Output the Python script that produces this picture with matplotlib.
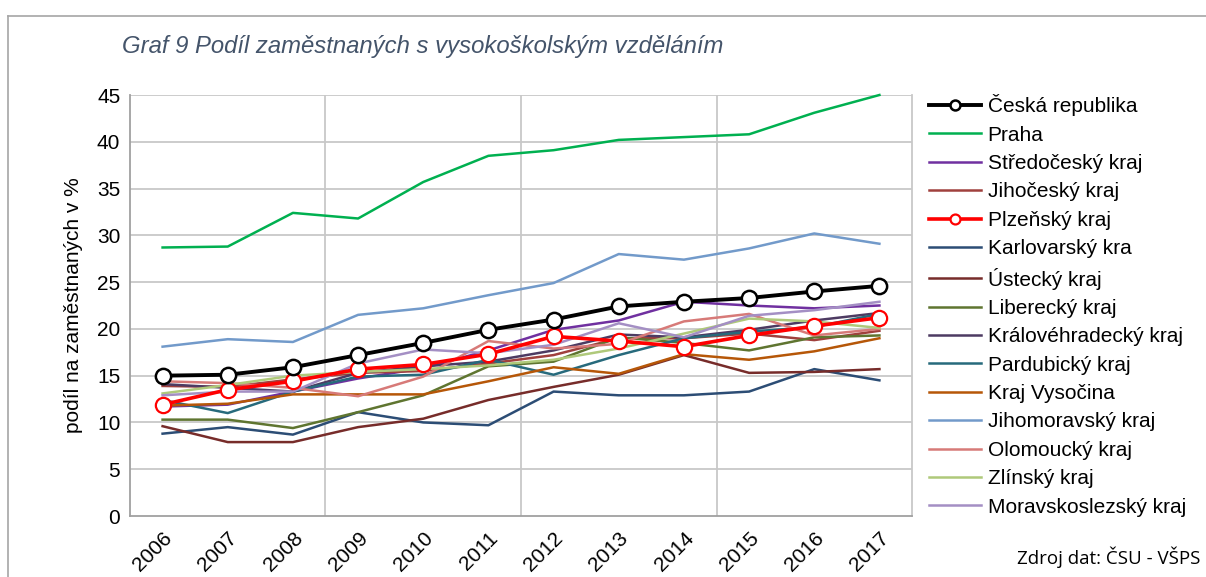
import matplotlib
matplotlib.use("Agg")
import matplotlib.pyplot as plt
from matplotlib.lines import Line2D

years = ["2006", "2007", "2008", "2009", "2010", "2011", "2012", "2013", "2014", "2015", "2016", "2017"]

ceska_republika = [15.0, 15.1, 15.9, 17.2, 18.5, 19.9, 21.0, 22.4, 22.9, 23.3, 24.0, 24.6]
praha = [28.7, 28.8, 32.4, 31.8, 35.7, 38.5, 39.1, 40.2, 40.5, 40.8, 43.1, 45.0]
stredocesky = [11.7, 11.9, 13.3, 14.7, 15.8, 17.7, 19.9, 20.9, 22.9, 22.5, 22.2, 22.5]
jihocesky = [13.9, 13.8, 14.6, 15.3, 15.5, 16.3, 17.2, 19.0, 19.0, 19.5, 18.8, 19.8]
plzensky = [11.9, 13.5, 14.4, 15.7, 16.2, 17.3, 19.2, 18.7, 18.1, 19.3, 20.3, 21.2]
karlovarsky = [8.8, 9.5, 8.7, 11.1, 10.0, 9.7, 13.3, 12.9, 12.9, 13.3, 15.7, 14.5]
ustecky = [9.6, 7.9, 7.9, 9.5, 10.4, 12.4, 13.8, 15.1, 17.2, 15.3, 15.4, 15.7]
liberecky = [10.3, 10.3, 9.4, 11.1, 12.9, 16.0, 16.5, 19.1, 18.5, 17.7, 19.1, 19.3]
kralovehradecky = [14.1, 13.7, 13.3, 15.3, 16.0, 16.5, 17.7, 19.4, 19.1, 19.9, 20.9, 21.7]
pardubicky = [12.4, 11.0, 13.3, 14.9, 15.1, 16.7, 15.1, 17.2, 19.0, 19.7, 20.2, 21.6]
vysocina = [11.8, 12.0, 13.0, 13.0, 13.0, 14.4, 15.9, 15.2, 17.3, 16.7, 17.6, 19.0]
jihomoravsky = [18.1, 18.9, 18.6, 21.5, 22.2, 23.6, 24.9, 28.0, 27.4, 28.6, 30.2, 29.1]
olomoucky = [14.4, 14.2, 13.7, 12.8, 14.9, 18.7, 17.9, 18.4, 20.8, 21.6, 19.3, 20.0]
zlinsky = [13.1, 14.0, 15.0, 15.4, 15.7, 16.1, 16.7, 17.9, 19.5, 21.1, 20.8, 20.1]
moravskoslezsky = [12.9, 13.3, 13.3, 16.3, 17.8, 17.4, 18.3, 20.6, 19.1, 21.4, 22.0, 22.9]

series_names = ["Česká republika", "Praha", "Středočeský kraj", "Jihočeský kraj", "Plzeňský kraj",
                "Karlovarský kra", "Ústecký kraj", "Liberecký kraj", "Královéhradecký kraj",
                "Pardubický kraj", "Kraj Vysočina", "Jihomoravský kraj", "Olomoucký kraj",
                "Zlínský kraj", "Moravskoslezský kraj"]
series_values = [ceska_republika, praha, stredocesky, jihocesky, plzensky, karlovarsky, ustecky,
                 liberecky, kralovehradecky, pardubicky, vysocina, jihomoravsky, olomoucky,
                 zlinsky, moravskoslezsky]
series_colors = ["#000000", "#00b050", "#7030a0", "#a0403d", "#ff0000", "#2c4d75", "#772c2a",
                 "#5f7530", "#4d3b62", "#276a7c", "#b65708", "#729aca", "#d77a78", "#afc97a",
                 "#a48fc4"]

plt.rcParams['font.family'] = ['Liberation Sans', 'DejaVu Sans']

W, H = 1206, 577
fig = plt.figure(figsize=(W / 100, H / 100), dpi=100)

# outer frame
fig.add_artist(Line2D([8 / W, 8 / W], [0, 1 - 16 / H], color="#a6a6a6", lw=1.2, transform=fig.transFigure))
fig.add_artist(Line2D([8 / W, 1], [1 - 16 / H, 1 - 16 / H], color="#a6a6a6", lw=1.2, transform=fig.transFigure))

ax = fig.add_axes([130 / W, 61 / H, 782 / W, 421 / H])
x = list(range(len(years)))

handles = []
for i, (name, vals, col) in enumerate(zip(series_names, series_values, series_colors)):
    if name == "Česká republika":
        h, = ax.plot(x, vals, color=col, lw=2.8, marker="o", markersize=11, markerfacecolor="white",
                     markeredgecolor=col, markeredgewidth=1.8, zorder=20, label=name, clip_on=False)
    elif name == "Plzeňský kraj":
        h, = ax.plot(x, vals, color=col, lw=2.6, marker="o", markersize=11, markerfacecolor="white",
                     markeredgecolor=col, markeredgewidth=1.6, zorder=10, label=name, clip_on=False)
    else:
        h, = ax.plot(x, vals, color=col, lw=1.8, zorder=5 + i * 0.1, label=name, clip_on=False)
    handles.append(h)

ax.set_xlim(-0.5, len(years) - 0.5)
ax.set_ylim(0, 45)
ax.set_yticks(range(0, 46, 5))
ax.set_xticks(x)
ax.set_xticklabels(years, rotation=45, ha="right", rotation_mode="anchor", fontsize=15)
ax.tick_params(axis="y", labelsize=15, length=0, pad=7)
ax.tick_params(axis="x", length=0, pad=9)

grid_color = "#c8c8c8"
for yv in range(5, 46, 5):
    ax.axhline(yv, color=grid_color, lw=1.3, zorder=0)
for xv in [2.5, 5.5, 8.5]:
    ax.axvline(xv, color=grid_color, lw=1.3, zorder=0)

ax.spines["top"].set_visible(False)
ax.spines["right"].set_color(grid_color)
ax.spines["right"].set_linewidth(1.3)
ax.spines["left"].set_color("#a0a0a0")
ax.spines["bottom"].set_color("#a0a0a0")
ax.spines["left"].set_linewidth(1.3)
ax.spines["bottom"].set_linewidth(1.3)

ax.set_ylabel("podíl na zaměstnaných v %", fontsize=15, labelpad=10)

fig.text(122 / W, 1 - 47 / H, "Graf 9 Podíl zaměstnaných s vysokoškolským vzděláním",
         fontsize=17.2, style="italic", color="#44546a", va="center", ha="left")

fig.text(1200 / W, 1 - 557 / H, "Zdroj dat: ČSU - VŠPS", fontsize=13.5, ha="right", va="center",
         family=["Open Sans", "DejaVu Sans"])

fig.legend(handles=handles, labels=series_names, loc="upper left",
           bbox_to_anchor=(921 / W, 1 - 86 / H), frameon=False, fontsize=15,
           handlelength=2.5, handletextpad=0.3, labelspacing=0.45, borderaxespad=0,
           markerscale=0.65)

fig.savefig("out.png", dpi=100)
